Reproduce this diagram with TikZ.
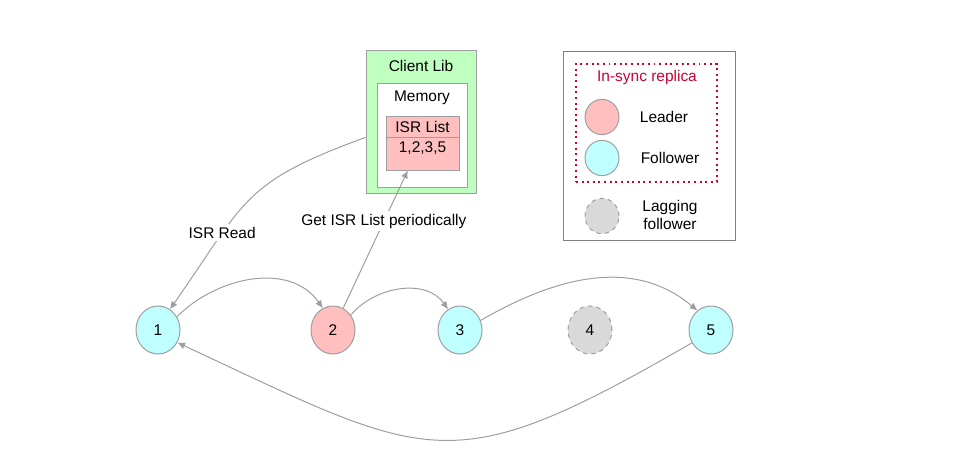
\documentclass[tikz,border=0pt]{standalone}
\usepackage{fontspec}
\setmainfont{Liberation Sans}
\usetikzlibrary{arrows.meta,shapes.geometric}
\definecolor{followfill}{RGB}{191,255,255}
\definecolor{leadfill}{RGB}{255,191,191}
\definecolor{libfill}{RGB}{191,255,191}
\definecolor{lagfill}{RGB}{217,217,217}
\definecolor{edgegray}{RGB}{158,158,158}
\definecolor{isrred}{RGB}{204,0,51}

\begin{document}
\begin{tikzpicture}[x=0.025cm,y=0.025cm,>={Latex[length=5.5pt,width=5pt]},
  font=\fontsize{11}{13}\selectfont,
  replica/.style={ellipse,draw=edgegray,line width=0.7pt,minimum width=1.1cm,minimum height=1.2cm,inner sep=0pt},
  keydot/.style={ellipse,draw=edgegray,line width=0.7pt,minimum width=0.85cm,minimum height=0.88cm,inner sep=0pt},
  box/.style={rectangle,draw=edgegray,line width=0.6pt,inner sep=0pt},
  link/.style={->,draw=edgegray,line width=0.7pt},
  tag/.style={fill=white,inner sep=2pt}]
\fill[white] (0,0) rectangle (965,-460);
\useasboundingbox (0,0) rectangle (965,-460);

% client library
\node[box,fill=libfill,minimum width=2.75cm,minimum height=3.575cm] (client) at (421,-121.5) {};
\node (clientlbl) at (421,-66) {Client Lib};
\node[box,fill=white,minimum width=2.25cm,minimum height=2.6cm] (memory) at (422,-135) {};
\node (memorylbl) at (422,-98) {Memory};
\node[box,fill=leadfill,minimum width=1.825cm,minimum height=0.525cm] (isrhead) at (422.5,-126.5) {ISR List};
\node[box,fill=leadfill,minimum width=1.825cm,minimum height=0.825cm] (isrbody) at (422.5,-153.5) {};
\node (isrlist) at (422.5,-148) {1,2,3,5};

% legend
\node[box,draw=gray,minimum width=4.3cm,minimum height=4.725cm] (legend) at (649,-145.5) {};
\node[rectangle,draw=isrred,line width=1pt,dash pattern=on 1.4pt off 2.6pt,minimum width=3.525cm,minimum height=2.95cm] (insync) at (646.5,-123) {};
\node[text=isrred] (insynclbl) at (647,-78) {In-sync replica};
\node[keydot,fill=leadfill] (keylead) at (602,-117) {};
\node (keyleadlbl) at (664,-117) {Leader};
\node[keydot,fill=followfill] (keyfollow) at (602,-158) {};
\node (keyfollowlbl) at (670,-158) {Follower};
\node[keydot,fill=lagfill,dashed] (keylag) at (602,-216) {};
\node[align=center] (keylaglbl) at (670,-215) {Lagging\\follower};

% replicas
\node[replica,fill=followfill] (n1) at (158,-330) {1};
\node[replica,fill=leadfill] (n2) at (333,-330) {2};
\node[replica,fill=followfill] (n3) at (460,-330) {3};
\node[replica,fill=lagfill,dashed] (n4) at (590,-330) {4};
\node[replica,fill=followfill] (n5) at (711,-330) {5};

% replication
\draw[link] (n1.35) to[out=45,in=125] (n2.115);
\draw[link] (n2.40) to[out=50,in=125] (n3.120);
\draw[link] (n3.25) to[out=30,in=140] (n5.125);
\draw[link] (n5.214) to[out=210,in=335,looseness=1.4] (n1.327);

% reads
\draw[link] (client.196) to[out=200,in=55,looseness=1.3] node[tag,pos=0.7] {ISR Read} (n1.60);
\draw[link] (n2.65) -- node[tag,pos=0.63] {Get ISR List periodically} (isrbody.229);
\end{tikzpicture}
\end{document}
